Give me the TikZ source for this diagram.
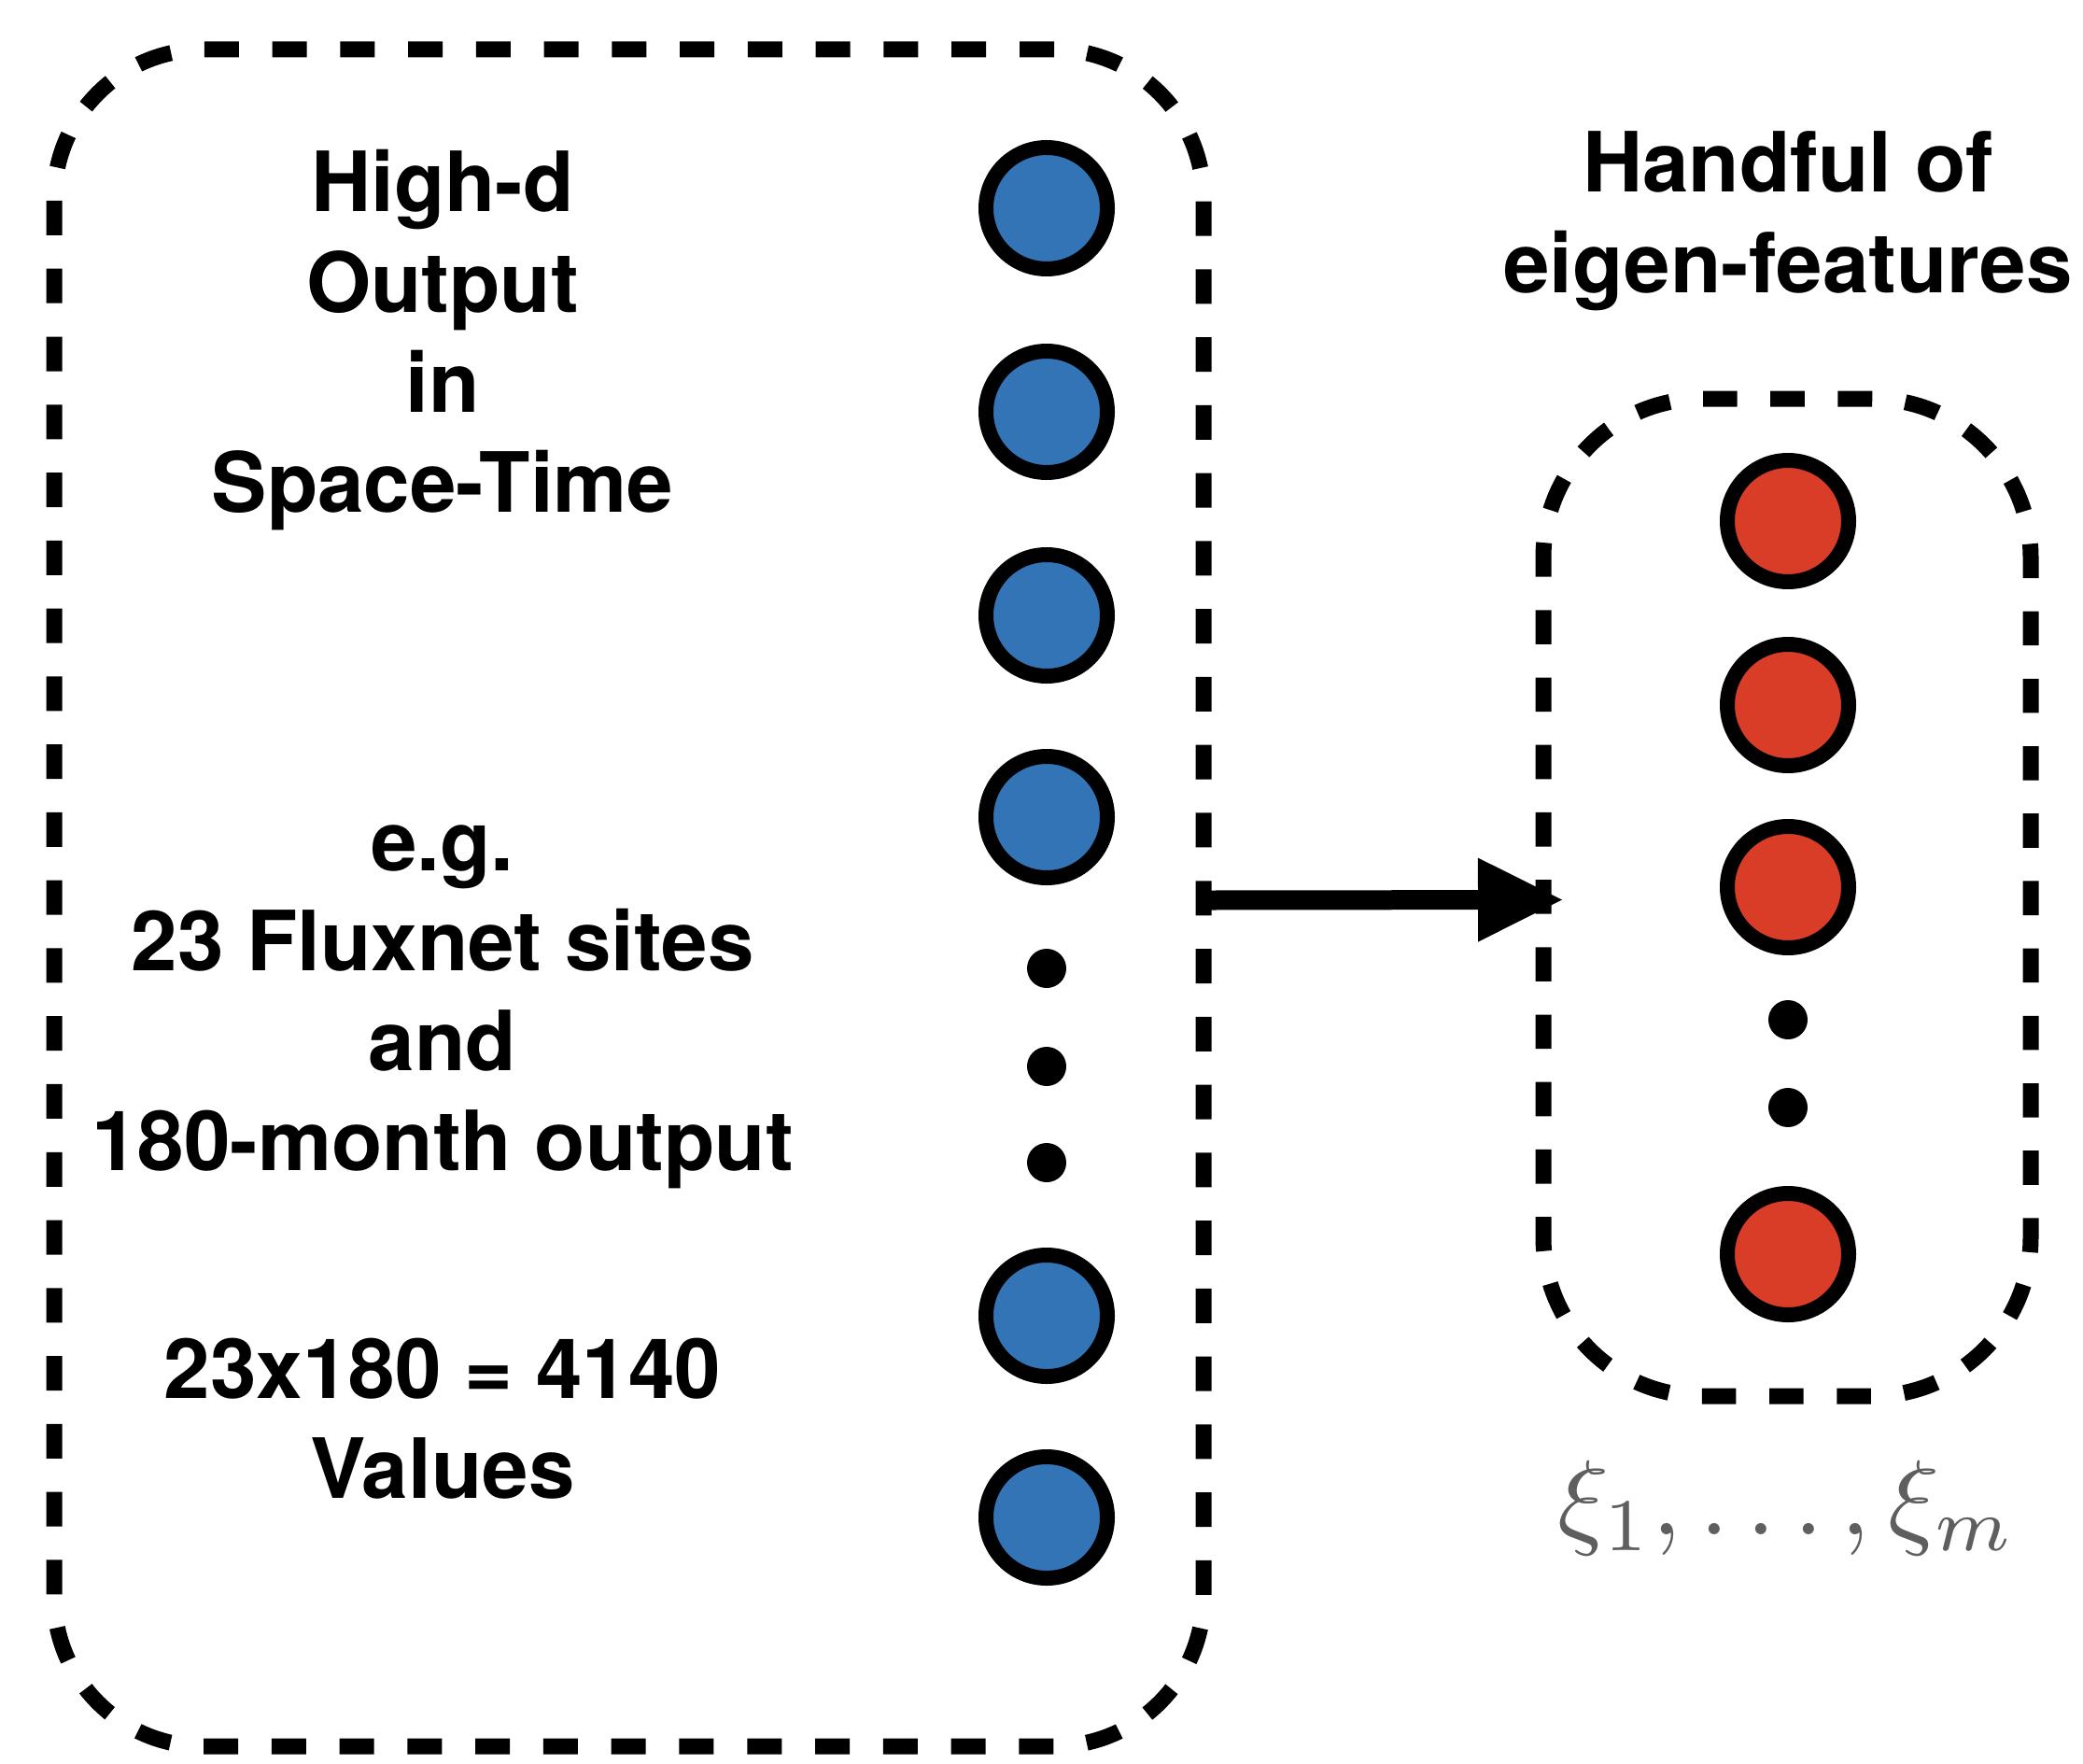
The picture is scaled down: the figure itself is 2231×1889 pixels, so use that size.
\documentclass[tikz,border=0pt]{standalone}
\usepackage[no-math]{fontspec}
\setmainfont{TeX Gyre Heros}
\usetikzlibrary{arrows.meta}
\definecolor{fblue}{RGB}{50,116,182}
\definecolor{fred}{RGB}{217,61,39}
\definecolor{xigray}{RGB}{95,95,95}
\begin{document}
\begin{tikzpicture}[x=1pt,y=-1pt,
  dashbox/.style={draw, line width=17pt, inner sep=0pt, outer sep=0pt},
  bluenode/.style={circle, draw, line width=16pt, fill=fblue, minimum size=130pt, inner sep=0pt},
  rednode/.style={circle, draw, line width=16pt, fill=fred, minimum size=130pt, inner sep=0pt},
  dotnode/.style={circle, fill=black, minimum size=42pt, inner sep=0pt},
  lbl/.style={anchor=base, inner sep=0pt, font=\fontsize{89}{107}\selectfont\bfseries},
  bigarrow/.style={line width=21pt, -{Triangle[length=90pt,width=90pt,line width=0pt]}},
]
\useasboundingbox (0,0) rectangle (2231,1889);

% boxes (dash periods fitted to the perimeters)
\node[dashbox, dash pattern=on 37pt off 35.77pt, rounded corners=160pt, minimum width=1231pt, minimum height=1817pt] (leftbox) at (673.5,961.5) {};
\node[dashbox, dash pattern=on 36.6pt off 35.6pt, rounded corners=170pt, minimum width=522pt, minimum height=1068pt] (rightbox) at (1914,961) {};

% blue nodes
\node[bluenode] (b1) at (1121,223) {};
\node[bluenode] (b2) at (1121,441) {};
\node[bluenode] (b3) at (1121,659) {};
\node[bluenode] (b4) at (1121,875) {};
\node[dotnode] (bd1) at (1121,1037) {};
\node[dotnode] (bd2) at (1121,1142) {};
\node[dotnode] (bd3) at (1121,1245) {};
\node[bluenode] (b5) at (1121,1409) {};
\node[bluenode] (b6) at (1121,1625) {};

% red nodes
\node[rednode] (r1) at (1915,558) {};
\node[rednode] (r2) at (1915,755) {};
\node[rednode] (r3) at (1915,950) {};
\node[dotnode] (rd1) at (1915,1092) {};
\node[dotnode] (rd2) at (1915,1186) {};
\node[rednode] (r4) at (1915,1343) {};

% left texts
\node[lbl] (t1) at (474,227) {High-d};
\node[lbl] (t2) at (474,334) {Output};
\node[lbl] (t3) at (474,441) {in};
\node[lbl] (t4) at (474,548) {Space-Time};
\node[lbl] (t5) at (474,932) {e.g.};
\node[lbl] (t6) at (474,1039) {23 Fluxnet sites};
\node[lbl] (t7) at (474,1146) {and};
\node[lbl] (t8) at (474,1253) {180-month output};
\node[lbl] (t9) at (474,1497) {23x180 = 4140};
\node[lbl] (t10) at (474,1604) {Values};

% right heading
\node[lbl] (h1) at (1915,206) {Handful of};
\node[lbl] (h2) at (1915,313) {eigen-features};

% xi label
\node[anchor=base, inner sep=0pt, text=xigray, font=\fontsize{10}{12}\selectfont, scale=11.4, transform shape] (xi) at (1914,1643) {$\xi_1,\ldots,\xi_m$};

% arrow
\draw[bigarrow] ([xshift=8pt,yshift=-2.5pt]leftbox.east) -- ([xshift=20pt,yshift=-2.5pt]rightbox.west);
\end{tikzpicture}
\end{document}
